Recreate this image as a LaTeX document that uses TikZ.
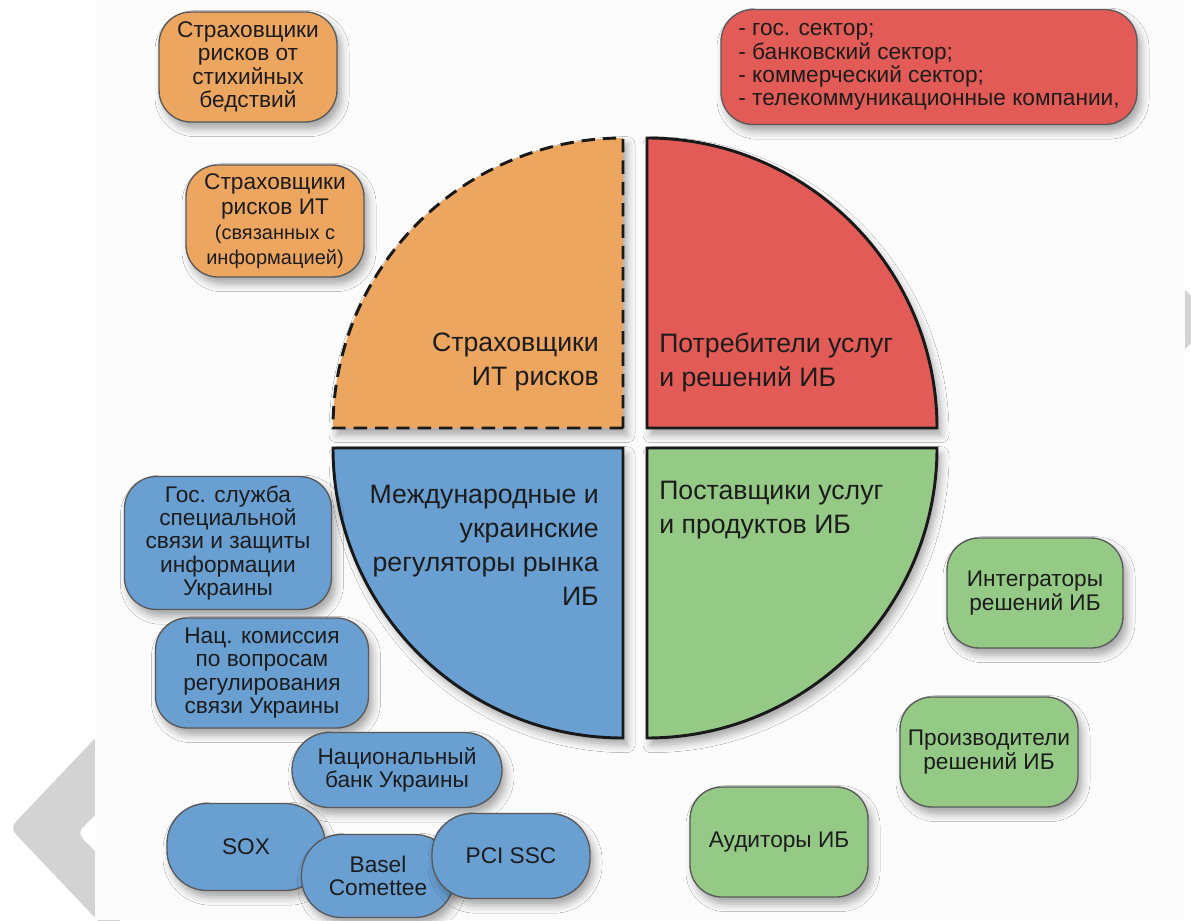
\documentclass[tikz,border=0pt]{standalone}
\usepackage{fontspec}
\setmainfont{Liberation Sans}
\usetikzlibrary{shadows.blur}
\definecolor{cOrange}{RGB}{236,166,95}
\definecolor{cRed}{RGB}{227,91,86}
\definecolor{cBlue}{RGB}{106,159,210}
\definecolor{cGreen}{RGB}{149,201,134}
\definecolor{cText}{RGB}{28,28,28}
\definecolor{cBg}{RGB}{252,252,252}
\definecolor{cChev}{RGB}{211,211,211}
\newcommand{\smallfnt}{\fontsize{15}{18.75}\selectfont}
\begin{document}
\begin{tikzpicture}[x=0.75pt,y=-0.75pt,
  shad/.style={blur shadow={shadow xshift=3pt,shadow yshift=-5pt,shadow blur radius=6pt,shadow opacity=35}},
  quad/.style={draw=black!90,line width=2.2pt,line join=miter,shad},
  qlabel/.style={font=\fontsize{20}{25.5}\selectfont,text=cText,inner sep=0pt},
  sbox/.style={draw=black!65,line width=1pt,rounded corners=24pt,align=center,inner sep=0pt,text=cText,font=\fontsize{17}{17.6}\selectfont,shad},
  pill/.style={sbox,rounded corners=30pt},
  sz/.style 2 args={minimum width=#1*0.75pt,minimum height=#2*0.75pt},
  obox/.style={sbox,fill=cOrange},
  rbox/.style={sbox,fill=cRed},
  bbox/.style={sbox,fill=cBlue},
  bpill/.style={pill,fill=cBlue},
  gbox/.style={sbox,fill=cGreen}]
\useasboundingbox (0,0) rectangle (1191,920);
\fill[white] (0,0) rectangle (1191,920);
% viewer chevrons
\fill[cChev,rounded corners=6pt] (120,712) -- (10,828) -- (120,944) -- (120,876) -- (77,833) -- (120,790) -- cycle;
\fill[cChev] (1185,290) -- (1191,296) -- (1191,343) -- (1185,349) -- cycle;
\fill[cBg] (95,0) rectangle (1185,920);

% quadrants
\draw[quad,fill=cOrange,dash pattern=on 10pt off 6pt] (623,428) -- (333,428) .. controls (333,268) and (463,138) .. (623,138) -- cycle;
\draw[quad,fill=cRed] (647,138) .. controls (807,138) and (937,268) .. (937,428) -- (647,428) -- cycle;
\draw[quad,fill=cBlue] (333,448) -- (623,448) -- (623,738) .. controls (463,738) and (333,608) .. (333,448) -- cycle;
\draw[quad,fill=cGreen] (647,448) -- (937,448) .. controls (937,608) and (807,738) .. (647,738) -- cycle;

\node[qlabel,anchor=east,align=right] (qo) at (599,362) {Страховщики\\ИТ рисков};
\node[qlabel,anchor=west,align=left] (qr) at (659,362) {Потребители услуг\\и решений ИБ};
\node[qlabel,anchor=east,align=right] (qb) at (599,545) {Международные и\\украинские\\регуляторы рынка\\ИБ};
\node[qlabel,anchor=west,align=left] (qg) at (659,510) {Поставщики услуг\\и продуктов ИБ};

% orange boxes
\node[obox,sz={178}{110}] (o1) at (248,67) {Страховщики\\рисков от\\стихийных\\бедствий};
\node[obox,sz={178}{112},font=\fontsize{17}{18.75}\selectfont] (o2) at (275,221) {Страховщики\\рисков ИТ\\\smallfnt (связанных с\\\smallfnt информацией)};
% red box
\node[rbox,sz={416}{115},align=left] (r1) at (929,67) {- гос. сектор;\\- банковский сектор;\\- коммерческий сектор;\\- телекоммуникационные компании,};
% blue boxes
\node[bbox,sz={207}{133}] (b1) at (228,543) {Гос. служба\\специальной\\связи и защиты\\информации\\Украины};
\node[bbox,sz={213}{110}] (b2) at (262,673) {Нац. комиссия\\по вопросам\\регулирования\\связи Украины};
\node[bpill,sz={210}{75},rounded corners=28pt] (b3) at (397,770) {Национальный\\банк Украины};
\node[bpill,sz={158}{87}] (sox) at (246,847) {SOX};
\node[bpill,sz={153}{83}] (basel) at (378,876) {Basel\\Comettee};
\node[bpill,sz={158}{85}] (pci) at (511,856) {PCI SSC};
% green boxes
\node[gbox,sz={176}{110}] (g1) at (1035,593) {Интеграторы\\решений ИБ};
\node[gbox,sz={178}{110}] (g2) at (989,752) {Производители\\решений ИБ};
\node[gbox,sz={178}{110}] (g3) at (779,842) {Аудиторы ИБ};
\end{tikzpicture}
\end{document}
